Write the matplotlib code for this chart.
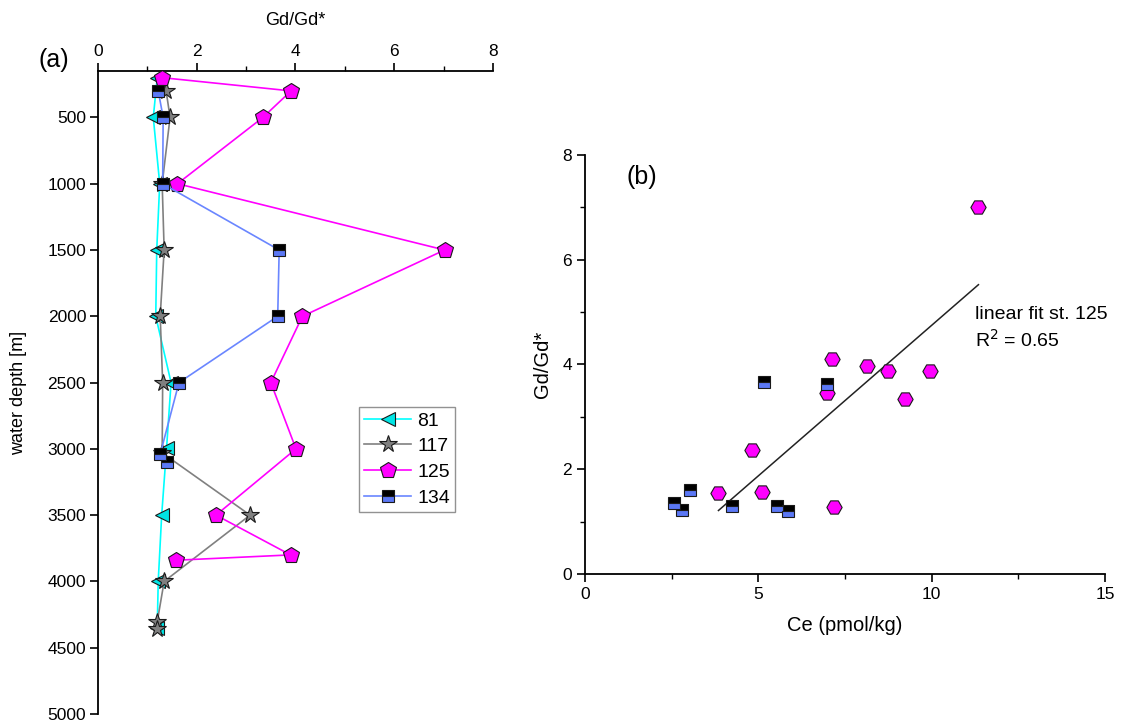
import numpy as np
import matplotlib
matplotlib.use("Agg")
import matplotlib.pyplot as plt
from matplotlib.ticker import MultipleLocator

plt.rcParams['font.family'] = ['Liberation Sans', 'DejaVu Sans']

# ---------------- data: panel (a) depth profiles ----------------
st81_gd = [1.20, 1.12, 1.25, 1.19, 1.17, 1.48, 1.39, 1.29, 1.22, 1.20]
st81_depth = [200, 500, 1000, 1500, 2000, 2500, 2990, 3500, 4000, 4350]

st117_gd = [1.38, 1.46, 1.30, 1.34, 1.26, 1.31, 1.30, 3.08, 1.34, 1.20, 1.20]
st117_depth = [300, 500, 1000, 1500, 2000, 2500, 3030, 3500, 4000, 4305, 4360]

st125_gd = [1.30, 3.91, 3.34, 1.61, 7.02, 4.14, 3.50, 4.01, 2.39, 3.90, 1.59]
st125_depth = [200, 300, 500, 1000, 1500, 2000, 2500, 3000, 3500, 3800, 3840]

st134_gd = [1.22, 1.32, 1.31, 3.67, 3.64, 1.64, 1.26, 1.40]
st134_depth = [300, 500, 1000, 1500, 2000, 2500, 3040, 3100]

# ---------------- data: panel (b) Gd/Gd* vs Ce ----------------
ce125 = [11.35, 7.12, 8.14, 8.75, 9.94, 9.24, 6.97, 4.81, 3.85, 5.11, 7.18]
gd125 = [7.00, 4.10, 3.98, 3.88, 3.88, 3.35, 3.45, 2.36, 1.55, 1.57, 1.27]

ce134 = [2.58, 2.80, 3.04, 4.25, 5.55, 5.86, 5.15, 6.97]
gd134 = [1.36, 1.23, 1.61, 1.29, 1.29, 1.20, 3.66, 3.63]

depth_ticks = list(range(500, 5001, 500))

c81_line, c81_face = '#00ffff', '#00e5e5'
c117_line, c117_face = '#808080', '#808080'
c125 = '#ff00ff'
c134_line, c134_face = '#6a86ff', '#5b78f5'

fig = plt.figure(figsize=(11.25, 7.27), dpi=100)

# ---------------- panel (a) ----------------
axa = fig.add_axes([0.0871, 0.0179, 0.3511, 0.8844])
axa.plot(st81_gd, st81_depth, color=c81_line, lw=1.2, marker='<', ms=10,
         mfc=c81_face, mec='#1a1a1a', mew=0.8, label='81', zorder=3)
axa.plot(st117_gd, st117_depth, color=c117_line, lw=1.2, marker='*', ms=13,
         mfc=c117_face, mec='#1a1a1a', mew=0.8, label='117', zorder=4)
axa.plot(st125_gd, st125_depth, color=c125, lw=1.2, marker='p', ms=12,
         mfc=c125, mec='#1a1a1a', mew=0.8, label='125', zorder=5)
axa.plot(st134_gd, st134_depth, color=c134_line, lw=1.2, marker='s', ms=8.5,
         mfc='black', mfcalt=c134_face, fillstyle='top', mec='#1a1a1a', mew=0.8,
         label='134', zorder=6)

axa.set_xlim(0, 8)
axa.set_ylim(5000, 150)
axa.xaxis.set_ticks_position('top')
axa.xaxis.set_label_position('top')
axa.xaxis.set_major_locator(MultipleLocator(2))
axa.xaxis.set_minor_locator(MultipleLocator(1))
axa.set_yticks(depth_ticks)
for s in ['right', 'bottom']:
    axa.spines[s].set_visible(False)
for s in ['left', 'top']:
    axa.spines[s].set_linewidth(1.3)
axa.tick_params(axis='both', which='major', labelsize=12.5, length=6, width=1.2,
                direction='out', pad=2.5)
axa.tick_params(axis='both', which='minor', length=3.5, width=1.0, direction='out')
axa.set_xlabel('Gd/Gd*', fontsize=13, labelpad=14)
axa.set_ylabel('water depth [m]', fontsize=13, labelpad=15)
leg = axa.legend(loc='upper left', bbox_to_anchor=(0.6608, 0.4774), fontsize=14,
                 frameon=True, fancybox=False, edgecolor='#777777',
                 handlelength=2.45, handletextpad=0.3, borderpad=0.25,
                 labelspacing=0.42, borderaxespad=0)
leg.get_frame().set_linewidth(1.0)
fig.text(38 / 1125, 1 - 60 / 727, '(a)', fontsize=18, ha='left', va='center')

# ---------------- panel (b) ----------------
axb = fig.add_axes([0.52, 0.2105, 0.4622, 0.5763])
axb.plot(ce125, gd125, ls='none', marker='H', ms=11, mfc=c125, mec='#1a1a1a',
         mew=0.8, zorder=3)
axb.plot(ce134, gd134, ls='none', marker='s', ms=8.5, mfc='black', mfcalt=c134_face,
         fillstyle='top', mec='#1a1a1a', mew=0.8, zorder=4)

coef = np.polyfit(ce125, gd125, 1)
xfit = np.array([min(ce125), max(ce125)])
axb.plot(xfit, np.polyval(coef, xfit), color='#222222', lw=1.1, zorder=2)

axb.set_xlim(0, 15)
axb.set_ylim(0, 8)
axb.xaxis.set_major_locator(MultipleLocator(5))
axb.xaxis.set_minor_locator(MultipleLocator(2.5))
axb.yaxis.set_major_locator(MultipleLocator(2))
axb.yaxis.set_minor_locator(MultipleLocator(1))
for s in ['right', 'top']:
    axb.spines[s].set_visible(False)
for s in ['left', 'bottom']:
    axb.spines[s].set_linewidth(1.3)
axb.tick_params(axis='both', which='major', labelsize=12.5, length=6, width=1.2, direction='out')
axb.tick_params(axis='both', which='minor', length=3.5, width=1.0, direction='out')
axb.set_xlabel('Ce (pmol/kg)', fontsize=14.5, labelpad=10)
axb.set_ylabel('Gd/Gd*', fontsize=14.5, labelpad=7)
axb.text(0.08, 0.947, '(b)', transform=axb.transAxes, fontsize=18, ha='left', va='center')
axb.text(0.75, 0.62, 'linear fit st. 125', transform=axb.transAxes, fontsize=14,
         ha='left', va='center')
axb.text(0.75, 0.558, 'R$^2$ = 0.65', transform=axb.transAxes, fontsize=14,
         ha='left', va='center')

fig.savefig('out.png', dpi=100)
